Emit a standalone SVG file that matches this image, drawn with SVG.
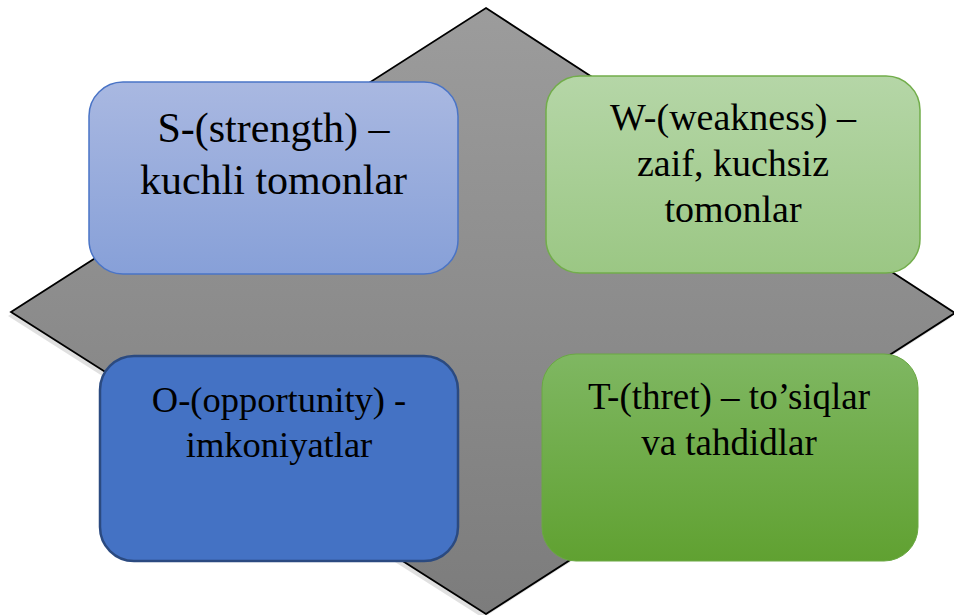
<svg xmlns="http://www.w3.org/2000/svg" width="954" height="615" viewBox="0 0 954 615" xml:lang="en" lang="en">
<defs>
<linearGradient id="gDia" x1="0" y1="0" x2="0" y2="1">
<stop offset="0" stop-color="#9c9c9c"/>
<stop offset="1" stop-color="#7c7c7c"/>
</linearGradient>
<linearGradient id="gS" x1="0" y1="0" x2="0" y2="1">
<stop offset="0" stop-color="#a9b8e1"/>
<stop offset="1" stop-color="#87a0d8"/>
</linearGradient>
<linearGradient id="gW" x1="0" y1="0" x2="0" y2="1">
<stop offset="0" stop-color="#b5d6a7"/>
<stop offset="1" stop-color="#9bc784"/>
</linearGradient>
<linearGradient id="gT" x1="0" y1="0" x2="0" y2="1">
<stop offset="0" stop-color="#7fb762"/>
<stop offset="1" stop-color="#60a131"/>
</linearGradient>
</defs>
<style>
.t { font-family: 'Liberation Serif', 'Times New Roman', serif; text-anchor: middle; fill: #000; }
</style>
<g id="diamond">
<polygon points="483,12 952,317 483,618 8,316" fill="#000" fill-opacity="0.12"/>
<polygon points="486,8 955,313 486,614 11,312" fill="url(#gDia)" stroke="#000" stroke-width="1.8" stroke-linejoin="miter"/>
</g>
<g id="connectors"></g>
<g id="S">
<rect x="89" y="82" width="369" height="192" rx="34" fill="url(#gS)" stroke="#4a74c6" stroke-width="1.5"/>
<text class="t" font-family="Liberation Serif" font-size="42" x="273.5" y="142">S-(strength) &#8211;</text>
<text class="t" font-family="Liberation Serif" font-size="42" x="273.5" y="194">kuchli tomonlar</text>
</g>
<g id="W">
<rect x="546" y="76" width="374" height="197" rx="34" fill="url(#gW)" stroke="#72ad4b" stroke-width="1.5"/>
<text class="t" font-family="Liberation Serif" font-size="38" x="733" y="130">W-(weakness) &#8211;</text>
<text class="t" font-family="Liberation Serif" font-size="38" x="733" y="176">zaif, kuchsiz</text>
<text class="t" font-family="Liberation Serif" font-size="38" x="733" y="222">tomonlar</text>
</g>
<g id="O">
<rect x="100" y="356" width="358" height="205" rx="34" fill="#4472c4" stroke="#2b4a80" stroke-width="2.5"/>
<text class="t" font-family="Liberation Serif" font-size="36.5" x="279" y="412">O-(opportunity) -</text>
<text class="t" font-family="Liberation Serif" font-size="36.5" x="279" y="457">imkoniyatlar</text>
</g>
<g id="T">
<rect x="542" y="354" width="376" height="207" rx="34" fill="url(#gT)" stroke="#6aa843" stroke-width="1"/>
<text class="t" font-family="Liberation Serif" font-size="37" x="729" y="409">T-(thret) &#8211; to&#8217;siqlar</text>
<text class="t" font-family="Liberation Serif" font-size="37" x="729" y="455">va tahdidlar</text>
</g>
</svg>
